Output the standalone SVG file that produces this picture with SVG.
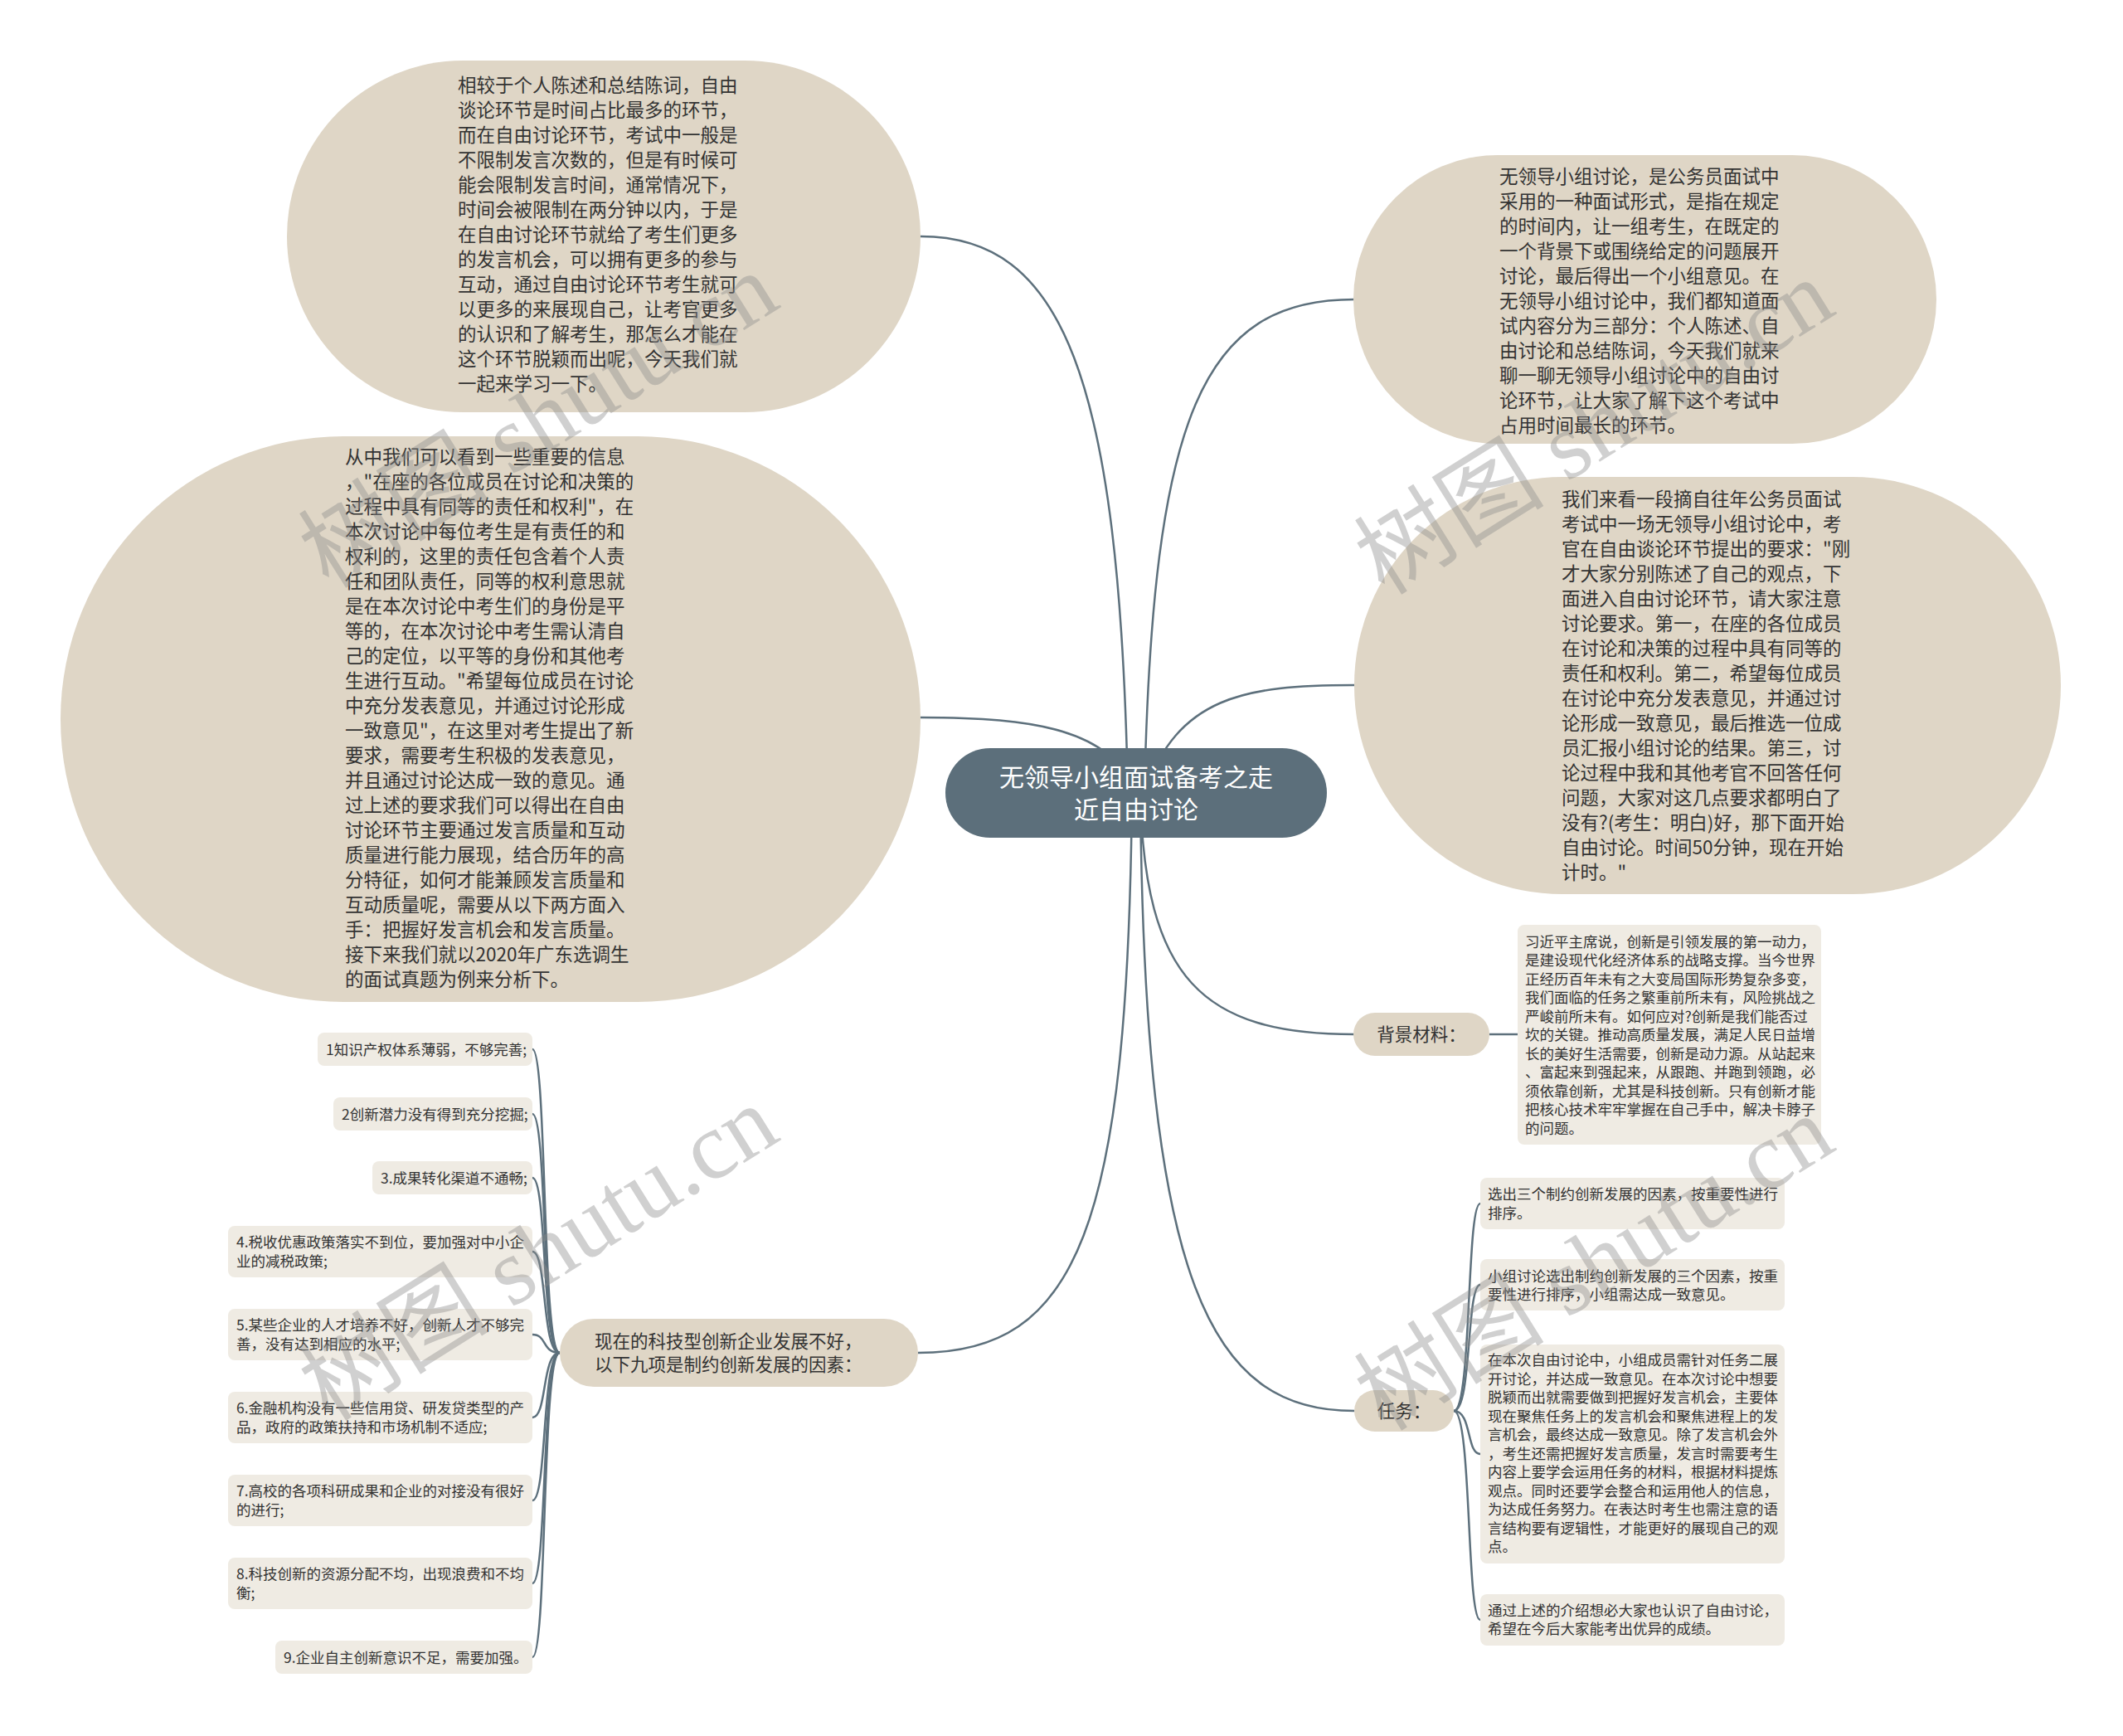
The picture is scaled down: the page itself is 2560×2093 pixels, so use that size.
<svg xmlns="http://www.w3.org/2000/svg" width="2560" height="2093" viewBox="0 0 2560 2093">
<style>
.conn{fill:none;stroke:#5d707c;stroke-width:2.5}
.big{fill:#dfd6c6}
.lbl{fill:#dfd6c6}
.box{fill:#efebe3}
.t{font-family:"Noto Sans CJK SC","Noto Sans",sans-serif;fill:#333}
.t22{font-size:22.5px}
.t21{font-size:21.5px}
.t17{font-size:17.5px}
.wm{font-family:"Liberation Serif","Noto Sans CJK SC",serif;font-size:115px;fill:#8c8c8c;opacity:0.4}
</style>
<rect width="2560" height="2093" fill="#ffffff"/>
<g id="connectors">
<path class="conn" d="M1360 956 C1350 450 1280 285 1110 285"/>
<path class="conn" d="M1370 956 C1340 880 1250 865 1110 865"/>
<path class="conn" d="M1380 956 C1390 500 1450 361 1633 361"/>
<path class="conn" d="M1380 956 C1420 840 1500 826 1633 826"/>
<path class="conn" d="M1375 956 C1380 1180 1450 1247 1633 1247"/>
<path class="conn" d="M1375 956 C1380 1550 1460 1701 1633 1701"/>
<path class="conn" d="M1365 956 C1360 1480 1300 1631 1107 1631"/>
<path class="conn" d="M1796 1247 L1830 1247"/>
<path class="conn" d="M1753 1701 C1775 1701 1768 1451 1785 1451"/>
<path class="conn" d="M1753 1701 C1775 1701 1768 1549 1785 1549"/>
<path class="conn" d="M1753 1701 C1775 1701 1768 1753 1785 1753"/>
<path class="conn" d="M1753 1701 C1775 1701 1768 1953 1785 1953"/>
<path class="conn" d="M675 1631 C653 1631 660 1265 642 1265"/>
<path class="conn" d="M675 1631 C653 1631 660 1343 642 1343"/>
<path class="conn" d="M675 1631 C653 1631 660 1420 642 1420"/>
<path class="conn" d="M675 1631 C653 1631 660 1509 642 1509"/>
<path class="conn" d="M675 1631 C653 1631 660 1609 642 1609"/>
<path class="conn" d="M675 1631 C653 1631 660 1709 642 1709"/>
<path class="conn" d="M675 1631 C653 1631 660 1809 642 1809"/>
<path class="conn" d="M675 1631 C653 1631 660 1909 642 1909"/>
<path class="conn" d="M675 1631 C653 1631 660 1998 642 1998"/>
</g>
<g id="node-center">
<rect x="1140" y="902" width="460" height="108" rx="54" fill="#5c6f7b"/>
<text class="t" x="1370" y="948" font-size="30" text-anchor="middle" style="fill:#fff">无领导小组面试备考之走</text>
<text class="t" x="1370" y="987" font-size="30" text-anchor="middle" style="fill:#fff">近自由讨论</text>
</g>
<g id="node-topleft">
<rect class="big" x="346" y="73" width="764" height="424" rx="212"/>
<text class="t t22" x="552" y="110.5"><tspan x="552">相较于个人陈述和总结陈词，自由</tspan><tspan x="552" dy="30">谈论环节是时间占比最多的环节，</tspan><tspan x="552" dy="30">而在自由讨论环节，考试中一般是</tspan><tspan x="552" dy="30">不限制发言次数的，但是有时候可</tspan><tspan x="552" dy="30">能会限制发言时间，通常情况下，</tspan><tspan x="552" dy="30">时间会被限制在两分钟以内，于是</tspan><tspan x="552" dy="30">在自由讨论环节就给了考生们更多</tspan><tspan x="552" dy="30">的发言机会，可以拥有更多的参与</tspan><tspan x="552" dy="30">互动，通过自由讨论环节考生就可</tspan><tspan x="552" dy="30">以更多的来展现自己，让考官更多</tspan><tspan x="552" dy="30">的认识和了解考生，那怎么才能在</tspan><tspan x="552" dy="30">这个环节脱颖而出呢，今天我们就</tspan><tspan x="552" dy="30">一起来学习一下。</tspan></text>
</g>
<g id="node-leftbig">
<rect class="big" x="73" y="526" width="1037" height="682" rx="341"/>
<text class="t t22" x="416" y="558.5"><tspan x="416">从中我们可以看到一些重要的信息</tspan><tspan x="416" dy="30">，"在座的各位成员在讨论和决策的</tspan><tspan x="416" dy="30">过程中具有同等的责任和权利"，在</tspan><tspan x="416" dy="30">本次讨论中每位考生是有责任的和</tspan><tspan x="416" dy="30">权利的，这里的责任包含着个人责</tspan><tspan x="416" dy="30">任和团队责任，同等的权利意思就</tspan><tspan x="416" dy="30">是在本次讨论中考生们的身份是平</tspan><tspan x="416" dy="30">等的，在本次讨论中考生需认清自</tspan><tspan x="416" dy="30">己的定位，以平等的身份和其他考</tspan><tspan x="416" dy="30">生进行互动。"希望每位成员在讨论</tspan><tspan x="416" dy="30">中充分发表意见，并通过讨论形成</tspan><tspan x="416" dy="30">一致意见"，在这里对考生提出了新</tspan><tspan x="416" dy="30">要求，需要考生积极的发表意见，</tspan><tspan x="416" dy="30">并且通过讨论达成一致的意见。通</tspan><tspan x="416" dy="30">过上述的要求我们可以得出在自由</tspan><tspan x="416" dy="30">讨论环节主要通过发言质量和互动</tspan><tspan x="416" dy="30">质量进行能力展现，结合历年的高</tspan><tspan x="416" dy="30">分特征，如何才能兼顾发言质量和</tspan><tspan x="416" dy="30">互动质量呢，需要从以下两方面入</tspan><tspan x="416" dy="30">手：把握好发言机会和发言质量。</tspan><tspan x="416" dy="30">接下来我们就以2020年广东选调生</tspan><tspan x="416" dy="30">的面试真题为例来分析下。</tspan></text>
</g>
<g id="node-righttop">
<rect class="big" x="1632" y="187" width="703" height="348" rx="174"/>
<text class="t t22" x="1808" y="220.5"><tspan x="1808">无领导小组讨论，是公务员面试中</tspan><tspan x="1808" dy="30">采用的一种面试形式，是指在规定</tspan><tspan x="1808" dy="30">的时间内，让一组考生，在既定的</tspan><tspan x="1808" dy="30">一个背景下或围绕给定的问题展开</tspan><tspan x="1808" dy="30">讨论，最后得出一个小组意见。在</tspan><tspan x="1808" dy="30">无领导小组讨论中，我们都知道面</tspan><tspan x="1808" dy="30">试内容分为三部分：个人陈述、自</tspan><tspan x="1808" dy="30">由讨论和总结陈词，今天我们就来</tspan><tspan x="1808" dy="30">聊一聊无领导小组讨论中的自由讨</tspan><tspan x="1808" dy="30">论环节，让大家了解下这个考试中</tspan><tspan x="1808" dy="30">占用时间最长的环节。</tspan></text>
</g>
<g id="node-rightsecond">
<rect class="big" x="1633" y="575" width="852" height="503" rx="251"/>
<text class="t t22" x="1883" y="609.5"><tspan x="1883">我们来看一段摘自往年公务员面试</tspan><tspan x="1883" dy="30">考试中一场无领导小组讨论中，考</tspan><tspan x="1883" dy="30">官在自由谈论环节提出的要求："刚</tspan><tspan x="1883" dy="30">才大家分别陈述了自己的观点，下</tspan><tspan x="1883" dy="30">面进入自由讨论环节，请大家注意</tspan><tspan x="1883" dy="30">讨论要求。第一，在座的各位成员</tspan><tspan x="1883" dy="30">在讨论和决策的过程中具有同等的</tspan><tspan x="1883" dy="30">责任和权利。第二，希望每位成员</tspan><tspan x="1883" dy="30">在讨论中充分发表意见，并通过讨</tspan><tspan x="1883" dy="30">论形成一致意见，最后推选一位成</tspan><tspan x="1883" dy="30">员汇报小组讨论的结果。第三，讨</tspan><tspan x="1883" dy="30">论过程中我和其他考官不回答任何</tspan><tspan x="1883" dy="30">问题，大家对这几点要求都明白了</tspan><tspan x="1883" dy="30">没有?(考生：明白)好，那下面开始</tspan><tspan x="1883" dy="30">自由讨论。时间50分钟，现在开始</tspan><tspan x="1883" dy="30">计时。"</tspan></text>
</g>
<g id="node-bg-label">
<rect class="lbl" x="1632" y="1221" width="164" height="52" rx="26"/>
<text class="t t21" x="1714" y="1255" text-anchor="middle">背景材料：</text>
</g>
<g id="node-bg-text">
<rect class="box" x="1830" y="1115" width="366" height="265" rx="8"/>
<text class="t t17" x="1839" y="1141.7"><tspan x="1839">习近平主席说，创新是引领发展的第一动力，</tspan><tspan x="1839" dy="22.5">是建设现代化经济体系的战略支撑。当今世界</tspan><tspan x="1839" dy="22.5">正经历百年未有之大变局国际形势复杂多变，</tspan><tspan x="1839" dy="22.5">我们面临的任务之繁重前所未有，风险挑战之</tspan><tspan x="1839" dy="22.5">严峻前所未有。如何应对?创新是我们能否过</tspan><tspan x="1839" dy="22.5">坎的关键。推动高质量发展，满足人民日益增</tspan><tspan x="1839" dy="22.5">长的美好生活需要，创新是动力源。从站起来</tspan><tspan x="1839" dy="22.5">、富起来到强起来，从跟跑、并跑到领跑，必</tspan><tspan x="1839" dy="22.5">须依靠创新，尤其是科技创新。只有创新才能</tspan><tspan x="1839" dy="22.5">把核心技术牢牢掌握在自己手中，解决卡脖子</tspan><tspan x="1839" dy="22.5">的问题。</tspan></text>
</g>
<g id="node-task-label">
<rect class="lbl" x="1633" y="1676" width="120" height="50" rx="25"/>
<text class="t t21" x="1693" y="1709" text-anchor="middle">任务：</text>
</g>
<g id="node-task-1">
<rect class="box" x="1785" y="1420" width="367" height="62" rx="8"/>
<text class="t t17" x="1794" y="1446"><tspan x="1794">选出三个制约创新发展的因素，按重要性进行</tspan><tspan x="1794" dy="22.5">排序。</tspan></text>
</g>
<g id="node-task-2">
<rect class="box" x="1785" y="1518" width="367" height="62" rx="8"/>
<text class="t t17" x="1794" y="1544.5"><tspan x="1794">小组讨论选出制约创新发展的三个因素，按重</tspan><tspan x="1794" dy="22.5">要性进行排序，小组需达成一致意见。</tspan></text>
</g>
<g id="node-task-3">
<rect class="box" x="1785" y="1621" width="367" height="264" rx="8"/>
<text class="t t17" x="1794" y="1646"><tspan x="1794">在本次自由讨论中，小组成员需针对任务二展</tspan><tspan x="1794" dy="22.5">开讨论，并达成一致意见。在本次讨论中想要</tspan><tspan x="1794" dy="22.5">脱颖而出就需要做到把握好发言机会，主要体</tspan><tspan x="1794" dy="22.5">现在聚焦任务上的发言机会和聚焦进程上的发</tspan><tspan x="1794" dy="22.5">言机会，最终达成一致意见。除了发言机会外</tspan><tspan x="1794" dy="22.5">，考生还需把握好发言质量，发言时需要考生</tspan><tspan x="1794" dy="22.5">内容上要学会运用任务的材料，根据材料提炼</tspan><tspan x="1794" dy="22.5">观点。同时还要学会整合和运用他人的信息，</tspan><tspan x="1794" dy="22.5">为达成任务努力。在表达时考生也需注意的语</tspan><tspan x="1794" dy="22.5">言结构要有逻辑性，才能更好的展现自己的观</tspan><tspan x="1794" dy="22.5">点。</tspan></text>
</g>
<g id="node-task-4">
<rect class="box" x="1785" y="1922" width="367" height="62" rx="8"/>
<text class="t t17" x="1794" y="1947.5"><tspan x="1794">通过上述的介绍想必大家也认识了自由讨论，</tspan><tspan x="1794" dy="22.5">希望在今后大家能考出优异的成绩。</tspan></text>
</g>
<g id="node-left-label">
<rect class="lbl" x="675" y="1590" width="432" height="82" rx="41"/>
<text class="t t21" x="717" y="1625"><tspan x="717">现在的科技型创新企业发展不好，</tspan><tspan x="717" dy="28">以下九项是制约创新发展的因素：</tspan></text>
</g>
<g id="node-item-1">
<rect class="box" x="383" y="1245" width="259" height="40" rx="8"/>
<text class="t t17" x="393" y="1271.5">1知识产权体系薄弱，不够完善;</text>
</g>
<g id="node-item-2">
<rect class="box" x="402" y="1323" width="240" height="40" rx="8"/>
<text class="t t17" x="412" y="1349.5">2创新潜力没有得到充分挖掘;</text>
</g>
<g id="node-item-3">
<rect class="box" x="449" y="1400" width="193" height="40" rx="8"/>
<text class="t t17" x="459" y="1426.5">3.成果转化渠道不通畅;</text>
</g>
<g id="node-item-4">
<rect class="box" x="275" y="1478" width="367" height="62" rx="8"/>
<text class="t t17" x="285" y="1504"><tspan x="285">4.税收优惠政策落实不到位，要加强对中小企</tspan><tspan x="285" dy="22.5">业的减税政策;</tspan></text>
</g>
<g id="node-item-5">
<rect class="box" x="275" y="1578" width="367" height="62" rx="8"/>
<text class="t t17" x="285" y="1604"><tspan x="285">5.某些企业的人才培养不好，创新人才不够完</tspan><tspan x="285" dy="22.5">善，没有达到相应的水平;</tspan></text>
</g>
<g id="node-item-6">
<rect class="box" x="275" y="1678" width="367" height="62" rx="8"/>
<text class="t t17" x="285" y="1704"><tspan x="285">6.金融机构没有一些信用贷、研发贷类型的产</tspan><tspan x="285" dy="22.5">品，政府的政策扶持和市场机制不适应;</tspan></text>
</g>
<g id="node-item-7">
<rect class="box" x="275" y="1778" width="367" height="62" rx="8"/>
<text class="t t17" x="285" y="1804"><tspan x="285">7.高校的各项科研成果和企业的对接没有很好</tspan><tspan x="285" dy="22.5">的进行;</tspan></text>
</g>
<g id="node-item-8">
<rect class="box" x="275" y="1878" width="367" height="62" rx="8"/>
<text class="t t17" x="285" y="1904"><tspan x="285">8.科技创新的资源分配不均，出现浪费和不均</tspan><tspan x="285" dy="22.5">衡;</tspan></text>
</g>
<g id="node-item-9">
<rect class="box" x="332" y="1978" width="310" height="40" rx="8"/>
<text class="t t17" x="342" y="2004.5">9.企业自主创新意识不足，需要加强。</text>
</g>
<g id="watermarks">
<text class="wm" x="649" y="546" text-anchor="middle" transform="rotate(-32 649 506)">树图 shutu.cn</text>
<text class="wm" x="1922" y="554" text-anchor="middle" transform="rotate(-32 1922 514)">树图 shutu.cn</text>
<text class="wm" x="649" y="1550" text-anchor="middle" transform="rotate(-32 649 1510)">树图 shutu.cn</text>
<text class="wm" x="1922" y="1562" text-anchor="middle" transform="rotate(-32 1922 1522)">树图 shutu.cn</text>
</g>
</svg>
